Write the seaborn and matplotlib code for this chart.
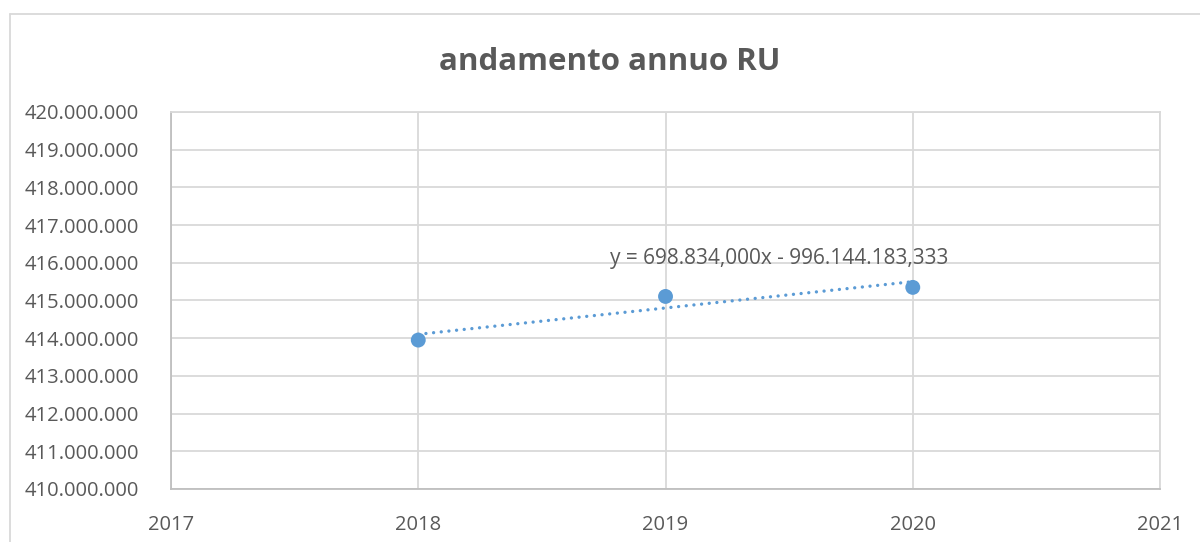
import numpy as np
import pandas as pd
import matplotlib
matplotlib.use("Agg")
import matplotlib.pyplot as plt
import matplotlib.ticker as mticker
from matplotlib.lines import Line2D
import seaborn as sns

years = [2018, 2019, 2020]
values = [413950000, 415107320, 415347668]
title = "andamento annuo RU"
eq_label = "y = 698.834,000x - 996.144.183,333"
x_ticks = [2017, 2018, 2019, 2020, 2021]
y_ticks = list(range(410000000, 420000001, 1000000))

sns.set_theme(style="white")
plt.rcParams['font.family'] = ['Open Sans', 'DejaVu Sans']

df = pd.DataFrame({"anno": years, "RU": values})

blue = "#5b9bd5"
grid = "#d9d9d9"
txt = "#595959"

fig = plt.figure(figsize=(12, 5.42), dpi=100)
ax = fig.add_axes([0.1425, 0.0978, 0.8242, 0.6956])

sns.regplot(data=df, x="anno", y="RU", ax=ax, ci=None, truncate=True,
            scatter_kws=dict(s=115, color=blue, edgecolor="none", alpha=1, zorder=4),
            line_kws=dict(color=blue, ls=(0, (0.01, 2.3)), lw=2.4, zorder=3,
                          dash_capstyle="round", solid_capstyle="round"))

ax.set_xlim(2017, 2021)
ax.set_ylim(410000000, 420000000)
ax.set_xticks(x_ticks)
ax.set_yticks(y_ticks)
ax.yaxis.set_major_formatter(mticker.FuncFormatter(lambda v, p: f"{int(round(v)):,}".replace(",", ".")))
ax.xaxis.set_major_formatter(mticker.FuncFormatter(lambda v, p: f"{int(round(v))}"))
ax.set_xlabel("")
ax.set_ylabel("")
ax.grid(True, color=grid, lw=1.3)
ax.set_axisbelow(True)
for s in ax.spines.values():
    s.set_color(grid)
    s.set_linewidth(1.3)
ax.spines["left"].set_color("#bfbfbf")
ax.spines["bottom"].set_color("#bfbfbf")
ax.tick_params(axis="both", length=0, labelsize=14.5, colors=txt)
ax.tick_params(axis="y", pad=23)
ax.tick_params(axis="x", pad=19)

ax.text(2019.46, 416120000, eq_label, fontsize=15, color=txt, ha="center", va="center")

fig.text(0.508, 0.885, title, fontsize=22.5, fontweight="bold", color=txt, ha="center", va="center")

# outer chart frame (cropped)
fig.add_artist(Line2D([10/1200, 1.0], [1 - 14/542, 1 - 14/542], transform=fig.transFigure, color=grid, lw=1.3))
fig.add_artist(Line2D([10/1200, 10/1200], [0, 1 - 14/542], transform=fig.transFigure, color=grid, lw=1.3))

fig.savefig("out.png", dpi=100, facecolor="white")
